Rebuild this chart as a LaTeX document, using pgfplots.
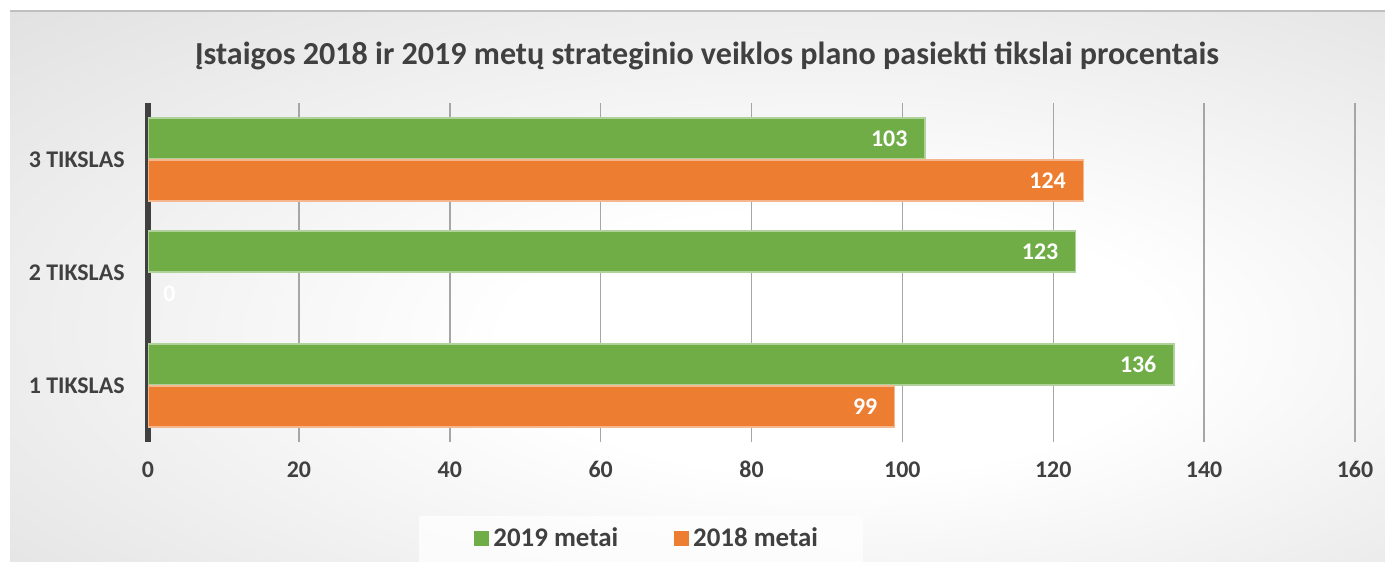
\documentclass[border=0pt]{standalone}
\usepackage{pgfplots}
\pgfplotsset{compat=1.18}
\usepackage{fontspec}
\setmainfont{Carlito}
\definecolor{cgreen}{HTML}{70AD47}
\definecolor{corange}{HTML}{ED7D31}
\definecolor{ctext}{HTML}{404040}
\definecolor{cgrid}{HTML}{A6A6A6}
\definecolor{bgmid}{gray}{0.84}
\definecolor{bgout}{gray}{0.77}
\pgfdeclareradialshading{bgshade}{\pgfpoint{6bp}{-6bp}}{color(0bp)=(white); color(12bp)=(white); color(50bp)=(bgmid); color(75bp)=(bgout)}
\begin{document}
\begin{tikzpicture}
\useasboundingbox (0,0) rectangle (692.5bp,281bp);
\fill[white] (0,0) rectangle (692.5bp,281bp);
\shade[shading=bgshade] (5bp,0) rectangle (692.5bp,275.5bp);
\draw[black!25, line width=0.75bp] (5bp,275.5bp) -- (692.5bp,275.5bp);
\fill[white, opacity=0.75] (209.5bp,0) rectangle (431.5bp,23bp);
\node[font=\fontsize{16.1}{19}\selectfont\bfseries, text=ctext] at (353.5bp,253bp) {Įstaigos 2018 ir 2019 metų strateginio veiklos plano pasiekti tikslai procentais};
\begin{axis}[
 at={(74bp,60bp)}, anchor=south west, scale only axis,
 width=603.5bp, height=169.5bp,
 xmin=0, xmax=160, ymin=0.5, ymax=3.5,
 xbar, bar width=20.5bp,
 xtick={0,20,...,160}, ytick={1,2,3},
 yticklabels={1 TIKSLAS, 2 TIKSLAS, 3 TIKSLAS},
 xmajorgrids, grid style={cgrid, line width=0.75bp},
 axis line style={draw=none},
 major tick length=0pt,
 tick label style={font=\fontsize{12}{14}\selectfont\bfseries, text=ctext},
 /pgf/number format/assume math mode=true,
 xticklabel style={inner sep=0pt, yshift=-9.5bp},
 yticklabel style={inner sep=0pt, xshift=-11.5bp},
 extra x ticks={0}, extra x tick labels={}, extra x tick style={grid style={ctext, line width=3bp}},
 legend style={at={(0.2701,-0.2861)}, anchor=west, draw=none, fill=none, inner sep=0pt,
   font=\fontsize{13.5}{15}\selectfont\bfseries, text=ctext,
   /tikz/every even column/.append style={column sep=26bp}},
 legend columns=2,
 legend image code/.code={\fill[#1,draw=none] (0bp,-3.75bp) rectangle (7.5bp,3.75bp);},
 nodes near coords,
 every node near coord/.append style={font=\fontsize{12}{14}\selectfont\bfseries, text=white, anchor=east, inner sep=0pt, xshift=-8.5bp},
]
\addplot[fill=cgreen, draw=cgreen!55!white, line width=0.6bp, bar shift=10.5bp] coordinates {(136,1) (123,2) (103,3)};
\addlegendentry{2019 metai}
\addplot[fill=corange, draw=corange!55!white, line width=0.6bp, bar shift=-10.5bp] coordinates {(99,1) (124,3)};
\addlegendentry{2018 metai}
\addplot[forget plot, draw=none, fill=none, bar shift=-10.5bp, every node near coord/.append style={anchor=west, xshift=16bp}] coordinates {(0,2)};
\end{axis}
\end{tikzpicture}
\end{document}
